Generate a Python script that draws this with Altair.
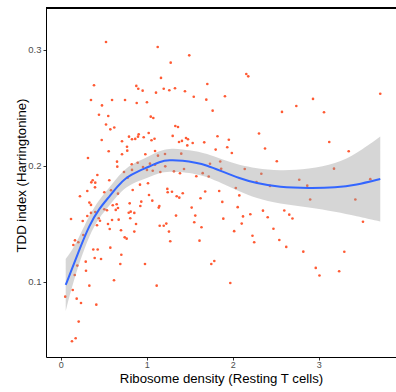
import altair as alt
import pandas as pd

# Scatter points: ribosome density (x) vs TDD index (y)
pt_x = [0.527, 1.128, 1.495, 1.279, 1.166, 0.387, 0.879, 0.902, 0.953, 1.198,
        1.263, 1.329, 1.445, 1.108, 1.547, 0.352, 0.597, 0.748, 0.884, 1.003,
        0.480, 0.445, 0.553, 1.047, 1.077, 0.527, 0.623, 0.577, 1.333, 1.364,
        1.023, 1.302, 0.794, 0.829, 0.867, 0.899, 0.965, 0.477, 1.056, 1.091,
        1.457, 1.480, 0.713, 1.376, 1.410, 1.535, 0.771, 1.472, 0.907,
        # dense region, left
        0.317, 0.558, 0.655, 0.658, 0.713, 0.736, 0.426, 0.372, 0.356, 0.402,
        0.565, 0.399, 0.309, 0.507, 0.585, 0.666, 0.224, 0.333, 0.352, 0.651,
        0.605, 0.666, 0.640, 0.352, 0.402, 0.507, 0.538, 0.442, 0.457, 0.120,
        0.256, 0.309, 0.550, 0.597, 0.674, 0.422, 0.570, 0.701, 0.744, 0.263,
        0.166, 0.205, 0.147, 0.379, 0.430, 0.577,
        # dense region, middle
        0.774, 0.984, 1.097, 1.131, 1.213, 1.402, 0.826, 0.895, 0.957, 1.038,
        1.097, 0.829, 1.003, 1.070, 1.216, 0.779, 0.922, 1.015, 1.158, 1.317,
        1.387, 1.434, 1.577, 0.837, 1.027, 1.240, 1.244, 1.294, 1.349, 1.379,
        1.419, 0.802, 0.937, 1.065, 1.147, 1.140, 0.926, 0.791, 0.814, 0.856,
        0.809, 1.341, 1.523, 1.565, 0.876, 1.151, 1.198, 1.228, 1.553, 0.856,
        1.259, 0.767, 1.274,
        # low values
        0.395, 0.469, 0.705, 0.291, 0.693, 0.980, 0.193, 0.294, 0.163, 0.620,
        0.333, 1.116, 0.140, 0.053, 0.186, 0.236, 0.414, 0.209, 0.174, 0.131,
        # right side
        2.158, 2.181, 1.705, 1.693, 1.910, 1.767, 2.573, 2.740, 2.934, 3.062,
        3.716, 1.823, 1.669, 1.955, 1.937, 1.802, 1.990, 2.306, 2.376, 3.123,
        3.349, 2.513, 1.855, 1.736, 1.866, 2.140, 1.651, 1.721, 2.333, 3.178,
        2.774, 2.867, 2.277, 2.434, 3.600, 1.680, 1.843, 2.036, 2.077, 1.626,
        2.901, 3.426,
        1.879, 2.058, 1.637, 1.891, 2.017, 2.120, 2.205, 2.105, 2.352, 2.407,
        2.474, 2.600, 2.658, 2.695, 2.230, 2.250, 2.542, 2.623, 2.821, 3.298,
        3.515, 1.614, 1.751, 1.786, 1.972, 2.966, 3.009, 3.238]

pt_y = [0.3069, 0.3026, 0.2954, 0.2891, 0.2759, 0.2696, 0.2690, 0.2666, 0.2649, 0.2666,
        0.2653, 0.2670, 0.2644, 0.2632, 0.2597, 0.2569, 0.2569, 0.2569, 0.2543, 0.2549,
        0.2522, 0.2442, 0.2431, 0.2425, 0.2414, 0.2358, 0.2332, 0.2316, 0.2345, 0.2336,
        0.2284, 0.2259, 0.2253, 0.2230, 0.2233, 0.2253, 0.2248, 0.2224, 0.2222, 0.2235,
        0.2241, 0.2230, 0.2213, 0.2207, 0.2216, 0.2198, 0.2166, 0.2177, 0.2273,
        0.2069, 0.2127, 0.2037, 0.1994, 0.2101, 0.1948, 0.1922, 0.1877, 0.1859, 0.1856,
        0.1877, 0.1816, 0.1784, 0.1773, 0.1791, 0.1761, 0.1739, 0.1684, 0.1664, 0.1670,
        0.1661, 0.1638, 0.1621, 0.1595, 0.1603, 0.1627, 0.1618, 0.1549, 0.1528, 0.1543,
        0.1526, 0.1569, 0.1500, 0.1534, 0.1537, 0.1489, 0.1457, 0.1446, 0.1385, 0.1405,
        0.1359, 0.1342, 0.1319, 0.1280, 0.1280, 0.1296,
        0.2132, 0.2101, 0.2129, 0.2089, 0.2103, 0.2106, 0.2015, 0.2028, 0.1991, 0.2020,
        0.2011, 0.1966, 0.1966, 0.1959, 0.1997, 0.1899, 0.1839, 0.1851, 0.1948, 0.1954,
        0.1937, 0.1974, 0.1911, 0.1793, 0.1750, 0.1802, 0.1773, 0.1778, 0.1739, 0.1727,
        0.1765, 0.1678, 0.1692, 0.1701, 0.1655, 0.1641, 0.1655, 0.1597, 0.1606, 0.1595,
        0.1549, 0.1572, 0.1641, 0.1572, 0.1500, 0.1485, 0.1485, 0.1503, 0.1515, 0.1434,
        0.1434, 0.1373, 0.1351,
        0.1207, 0.1198, 0.1235, 0.1175, 0.1155, 0.1155, 0.1141, 0.1097, 0.1060, 0.1015,
        0.0968, 0.0968, 0.0931, 0.0873, 0.0856, 0.0819, 0.0804, 0.0658, 0.0515, 0.0489,
        0.2793, 0.2773, 0.2707, 0.2572, 0.2601, 0.2477, 0.2466, 0.2517, 0.2578, 0.2463,
        0.2623, 0.2256, 0.2204, 0.2226, 0.2161, 0.2141, 0.2112, 0.2280, 0.2151, 0.2207,
        0.2127, 0.2041, 0.2039, 0.2019, 0.1976, 0.1974, 0.1938, 0.1909, 0.1933, 0.1977,
        0.1881, 0.1830, 0.1862, 0.1828, 0.1886, 0.1780, 0.1784, 0.1810, 0.1746, 0.1722,
        0.1711, 0.1711,
        0.1690, 0.1645, 0.1472, 0.1546, 0.1438, 0.1565, 0.1584, 0.1503, 0.1615, 0.1558,
        0.1459, 0.1616, 0.1580, 0.1547, 0.1398, 0.1342, 0.1362, 0.1302, 0.1261, 0.1260,
        0.1519, 0.1356, 0.1155, 0.1181, 0.0991, 0.1121, 0.1056, 0.1092]

# Loess smooth with confidence band
sm_x = [0.058, 0.131, 0.216, 0.333, 0.449, 0.565, 0.655, 0.759, 0.914, 1.030,
        1.147, 1.263, 1.419, 1.573, 1.690, 1.884, 2.077, 2.271, 2.542, 2.891,
        3.201, 3.434, 3.716]
sm_y = [0.0974, 0.1114, 0.1276, 0.1491, 0.1635, 0.1735, 0.1819, 0.1903, 0.1960, 0.1994,
        0.2037, 0.2052, 0.2046, 0.2028, 0.2009, 0.1951, 0.1894, 0.1851, 0.1816, 0.1808,
        0.1813, 0.1836, 0.1888]
sm_lo = [0.0750, 0.0959, 0.1164, 0.1405, 0.1557, 0.1657, 0.1741, 0.1821, 0.1874, 0.1903,
         0.1942, 0.1953, 0.1947, 0.1929, 0.1910, 0.1848, 0.1782, 0.1722, 0.1674, 0.1644,
         0.1606, 0.1569, 0.1522]
sm_hi = [0.1198, 0.1269, 0.1388, 0.1577, 0.1713, 0.1813, 0.1897, 0.1985, 0.2046, 0.2085,
         0.2132, 0.2151, 0.2145, 0.2127, 0.2108, 0.2054, 0.2006, 0.1980, 0.1958, 0.1972,
         0.2020, 0.2103, 0.2254]

x_ticks = [0, 1, 2, 3]
y_ticks = [0.1, 0.2, 0.3]
x_title = "Ribosome density (Resting T cells)"
y_title = "TDD index (Harringtonine)"

pts = pd.DataFrame({"x": pt_x, "y": pt_y})
sm = pd.DataFrame({"x": sm_x, "y": sm_y, "lo": sm_lo, "hi": sm_hi})

FONT = "Liberation Sans"
xscale = alt.Scale(domain=[-0.171, 3.899], nice=False, zero=False)
yscale = alt.Scale(domain=[0.0353, 0.3362], nice=False, zero=False)

xaxis = alt.Axis(values=x_ticks, title=x_title, grid=False, format="d",
                 labelFont=FONT, labelFontSize=9, labelColor="#4d4d4d", labelPadding=0.5,
                 tickSize=3, tickColor="#333333", domainColor="#000000", domainWidth=1,
                 titleFont=FONT, titleFontSize=13.2, titleFontWeight="normal",
                 titleColor="#000000", titleBaseline="alphabetic", titleY=25.5)
yaxis = alt.Axis(values=y_ticks, title=y_title, grid=False, format=".1f",
                 labelFont=FONT, labelFontSize=9.5, labelColor="#4d4d4d", labelPadding=2,
                 tickSize=3, tickColor="#333333", domainColor="#000000", domainWidth=1,
                 titleFont=FONT, titleFontSize=13.2, titleFontWeight="normal",
                 titleColor="#000000", titleBaseline="alphabetic", titleX=-21, titleY=167)

points = alt.Chart(pts).mark_circle(size=7, color="#FF5A33", opacity=1, clip=True).encode(
    x=alt.X("x:Q", scale=xscale, axis=xaxis),
    y=alt.Y("y:Q", scale=yscale, axis=yaxis),
)

band = alt.Chart(sm).mark_area(color="#999999", opacity=0.4, interpolate="basis", clip=True).encode(
    x=alt.X("x:Q", scale=xscale),
    y=alt.Y("lo:Q", scale=yscale),
    y2="hi:Q",
)

line = alt.Chart(sm).mark_line(color="#3366FF", strokeWidth=2, interpolate="basis", clip=True).encode(
    x=alt.X("x:Q", scale=xscale),
    y=alt.Y("y:Q", scale=yscale),
)

topline = alt.Chart(sm).mark_rule(color="#000000", strokeWidth=1).encode(
    x=alt.value(0), x2=alt.value(350), y=alt.value(0)
)

chart = alt.layer(points, band, line, topline).properties(
    width=350, height=349,
    autosize=alt.AutoSizeParams(type="none"),
    padding={"left": 46, "top": 8, "right": 0, "bottom": 35},
).configure_view(strokeOpacity=0)

chart.save("out.html", embed_options={"renderer": "svg", "actions": False})
